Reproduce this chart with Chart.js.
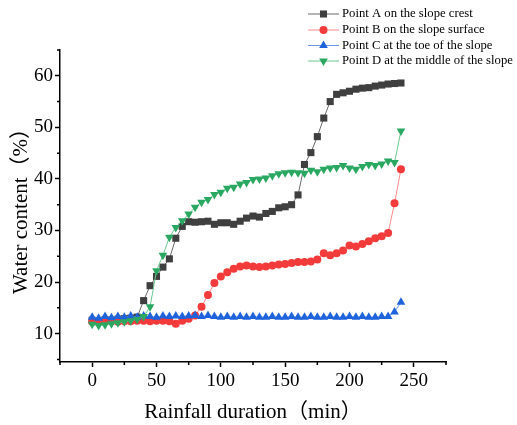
<!DOCTYPE html>
<html><head><meta charset="utf-8">
<script src="https://cdn.jsdelivr.net/npm/chart.js@4.4.1/dist/chart.umd.min.js"></script>
<style>html,body{margin:0;padding:0;background:#fff;overflow:hidden}#wrap{width:517px;height:425px;position:relative}</style>
</head><body><div id="wrap"><canvas id="c" width="517" height="425"></canvas></div>
<script>
const times = [0,5,10,15,20,25,30,35,40,45,50,55,60,65,70,75,80,85,90,95,100,105,110,115,120,125,130,135,140,145,150,155,160,165,170,175,180,185,190,195,200,205,210,215,220,225,230,235,240];
const crestA = [12.6,12.5,12.7,12.6,12.8,12.9,13.0,13.2,16.4,19.3,21.1,22.9,24.5,28.5,30.8,31.7,31.6,31.7,31.8,31.2,31.5,31.5,31.2,31.8,32.4,32.8,32.6,33.3,33.7,34.4,34.6,35.0,36.9,42.8,45.1,48.2,51.8,55.0,56.4,56.7,57.0,57.4,57.6,57.7,58.0,58.2,58.4,58.5,58.6];
const surfaceB = [12.3,12.2,12.3,12.4,12.3,12.4,12.4,12.5,12.5,12.4,12.5,12.5,12.4,11.9,12.5,12.9,13.5,15.2,17.5,19.8,21.1,21.9,22.6,23.0,23.2,23.0,22.9,23.0,23.2,23.4,23.5,23.7,23.9,23.9,24.0,24.4,25.6,25.2,25.6,26.1,27.1,26.9,27.4,27.9,28.5,28.9,29.5,35.3,41.9];
const toeC = [13.2,13.0,13.3,13.1,13.3,13.2,13.4,13.2,13.4,13.3,13.2,13.4,13.3,13.4,13.3,13.4,13.5,13.3,13.5,13.3,13.2,13.3,13.2,13.3,13.2,13.3,13.2,13.2,13.3,13.2,13.2,13.3,13.2,13.2,13.3,13.2,13.2,13.3,13.2,13.2,13.3,13.2,13.3,13.2,13.2,13.3,13.3,14.2,16.1];
const middleD = [11.8,11.6,11.7,11.9,12.1,12.3,12.5,12.8,13.3,15.2,22.2,25.2,28.7,30.6,31.9,33.2,34.5,35.5,36.0,37.0,37.4,38.2,38.4,39.0,39.3,39.9,40.0,40.2,40.6,41.0,41.2,41.3,41.2,41.1,41.7,41.4,41.9,42.1,42.2,42.6,42.1,41.9,42.4,42.8,42.6,42.9,43.5,43.2,49.3];
const seriesNames = ["Point A on the slope crest","Point B on the slope surface","Point C at the toe of the slope","Point D at the middle of the slope"];
const xTickValues = [0,50,100,150,200,250];
const xMinorTicks = [-25,25,75,125,175,225,275];
const yTickValues = [10,20,30,40,50,60];
const yMinorTicks = [5,15,25,35,45,55,65];
const xTitle = "Rainfall duration（min）";
const yTitle = "Water content（%）";

const serif = '"Liberation Serif", "Times New Roman", "Noto Sans CJK SC", serif';
const toPts = arr => arr.map((v,i)=>({x:times[i], y:v}));

const styles = [
  {line:'#6a6a6a', mark:'#3f3f3f', ps:'rect', r:5, rot:0},
  {line:'#ff8a8a', mark:'#f43b3b', ps:'circle', r:4, rot:0},
  {line:'#6f9be8', mark:'#1f63dc', ps:'triangle', r:5, rot:0},
  {line:'#6cc890', mark:'#2aa862', ps:'triangle', r:5, rot:180}
];
const seriesData = [crestA, surfaceB, toeC, middleD];

const datasets = seriesData.map((d,i)=>({
  label: seriesNames[i],
  data: toPts(d),
  borderColor: styles[i].line,
  backgroundColor: styles[i].mark,
  borderWidth: 1,
  pointStyle: styles[i].ps,
  pointRotation: styles[i].rot,
  pointRadius: styles[i].r,
  pointBackgroundColor: styles[i].mark,
  pointBorderColor: styles[i].mark,
  pointBorderWidth: 0,
  tension: 0,
  order: 3 - i
}));

const extrasPlugin = {
  id: 'extras',
  afterDraw(chart) {
    const ctx = chart.ctx;
    const xs = chart.scales.x, ys = chart.scales.y;
    const ca = chart.chartArea;
    ctx.save();
    ctx.strokeStyle = '#000';
    ctx.lineWidth = 1.5;
    ctx.beginPath();
    xMinorTicks.forEach(v => { const px = xs.getPixelForValue(v); ctx.moveTo(px, ca.bottom); ctx.lineTo(px, ca.bottom + 3); });
    yMinorTicks.forEach(v => { const py = ys.getPixelForValue(v); ctx.moveTo(ca.left, py); ctx.lineTo(ca.left - 3, py); });
    ctx.stroke();
    // legend
    const rows = [14, 30, 45.5, 61];
    chart.data.datasets.forEach((ds, i) => {
      const y = rows[i];
      ctx.strokeStyle = ds.borderColor;
      ctx.lineWidth = 1;
      ctx.beginPath(); ctx.moveTo(308, y); ctx.lineTo(339, y); ctx.stroke();
      ctx.fillStyle = ds.pointBackgroundColor;
      Chart.helpers.drawPoint(ctx, {pointStyle: ds.pointStyle, rotation: ds.pointRotation, radius: ds.pointRadius, borderWidth: 0}, 323.5, y);
      ctx.fillStyle = '#000';
      ctx.font = '12.7px ' + serif;
      ctx.textBaseline = 'middle';
      ctx.textAlign = 'left';
      ctx.fillText(ds.label, 342, y);
    });
    ctx.restore();
  }
};

new Chart(document.getElementById('c'), {
  type: 'line',
  data: { datasets },
  options: {
    responsive: false,
    animation: false,
    devicePixelRatio: 1,
    layout: { padding: { left: 0, top: 50, right: 71, bottom: 0 } },
    plugins: { legend: { display: false }, tooltip: { enabled: false } },
    scales: {
      x: {
        type: 'linear', min: -25, max: 275,
        afterBuildTicks: s => { s.ticks = xTickValues.map(v => ({value: v})); },
        afterFit: s => { s.height = 63; },
        grid: { display: true, drawOnChartArea: false, drawTicks: true, tickLength: 5, tickColor: '#000', tickWidth: 1.5 },
        border: { display: true, color: '#000', width: 1.5 },
        ticks: { color: '#000', font: { family: serif, size: 19 }, padding: 3, maxRotation: 0, autoSkip: false },
        title: { display: true, text: xTitle, color: '#000', font: { family: serif, size: 21 }, padding: { top: 0, bottom: 0 } }
      },
      y: {
        type: 'linear', min: 4.5, max: 65,
        afterBuildTicks: s => { s.ticks = yTickValues.map(v => ({value: v})); },
        afterFit: s => { s.width = 60; },
        grid: { display: true, drawOnChartArea: false, drawTicks: true, tickLength: 5, tickColor: '#000', tickWidth: 1.5 },
        border: { display: true, color: '#000', width: 1.5 },
        ticks: { color: '#000', font: { family: serif, size: 19 }, padding: 2, autoSkip: false },
        title: { display: true, text: yTitle, color: '#000', font: { family: serif, size: 21 }, padding: { top: 9, bottom: 0 } }
      }
    }
  },
  plugins: [extrasPlugin]
});
</script></body></html>
